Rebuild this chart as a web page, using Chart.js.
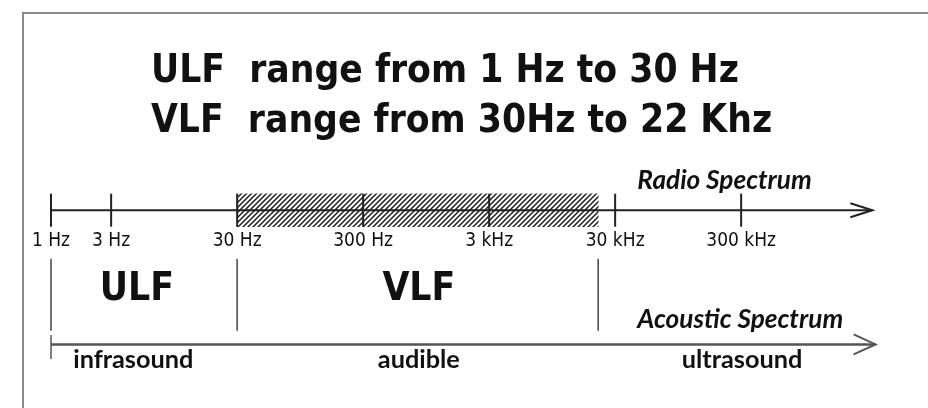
<!DOCTYPE html>
<html>
<head>
<meta charset="utf-8">
<script src="https://cdn.jsdelivr.net/npm/chart.js@4.4.0/dist/chart.umd.min.js"></script>
<style>
  html, body { margin: 0; padding: 0; background: #fff; }
  #wrap { width: 928px; height: 408px; }
</style>
</head>
<body>
<div id="wrap"><canvas id="myChart" width="928" height="408"></canvas></div>
<script>
// all frequencies in Hz
const titleLines      = ['ULF  range from 1 Hz to 30 Hz', 'VLF  range from 30Hz to 22 Khz'];
const radioTicks      = [1, 3, 30, 300, 3000, 30000, 300000];
const radioTickLabels = ['1 Hz', '3 Hz', '30 Hz', '300 Hz', '3 kHz', '30 kHz', '300 kHz'];
const radioAxis       = [1, 3.3e6];
const vlfBand         = [30, 22000];
const bandEdges       = [1, 30, 22000];
const bandNames       = ['ULF', 'VLF'];
const bandLabelAt     = [4.8, 830];
const acousticAxis    = [1, 3.5e6];
const soundNames      = ['infrasound', 'audible', 'ultrasound'];
const soundLabelAt    = [4.5, 830, 305000];
const spectrumNames   = ['Radio Spectrum', 'Acoustic Spectrum'];
const spectrumLabelAt = [45000, 45000];

// vertical layout (rows on the hidden y scale) and text sizes
const rows = { title1: 67, title2: 123, radioName: 187, radio: 211, tickLabel: 251, bands: 306,
               bandName: 312, acousticName: 343, acoustic: 362, acousticTick: 365, soundName: 388 };
const CONDENSED = '"DejaVu Sans Condensed", "DejaVu Sans", sans-serif';
const HUMANIST  = 'Lato, "Open Sans", sans-serif';

var canvas = document.querySelector('#myChart');
var ctx0 = canvas.getContext('2d');

// diagonal hatch for the VLF band
function hatch() {
    const c = document.createElement('canvas');
    c.width = c.height = 5;
    const g = c.getContext('2d');
    g.strokeStyle = '#1e1e1e';
    g.lineWidth = 1.5;
    g.beginPath();
    g.moveTo(0, 5); g.lineTo(5, 0);
    g.moveTo(-1, 1); g.lineTo(1, -1);
    g.moveTo(4, 6); g.lineTo(6, 4);
    g.stroke();
    return ctx0.createPattern(c, 'repeat');
}

// font size chosen so that the text gets the wanted width
function fitFont(ctx, text, style, family, width) {
    ctx.font = style + ' 100px ' + family;
    return style + ' ' + (100 * width / ctx.measureText(text).width).toFixed(1) + 'px ' + family;
}

function arrowHead(ctx, meta, back, spread, color, lw) {
    const p = meta.data[meta.data.length - 1];
    ctx.save();
    ctx.strokeStyle = color;
    ctx.lineWidth = lw;
    ctx.beginPath();
    ctx.moveTo(p.x - back, p.y - spread);
    ctx.lineTo(p.x, p.y);
    ctx.lineTo(p.x - back, p.y + spread);
    ctx.stroke();
    ctx.restore();
}

const diagram = {
    id: 'diagram',
    afterDatasetsDraw(chart) {
        const {ctx, scales: {x, y}} = chart;
        arrowHead(ctx, chart.getDatasetMeta(1), 22, 7, '#222', 2);
        arrowHead(ctx, chart.getDatasetMeta(4), 22, 10, '#555', 2);

        ctx.save();
        ctx.fillStyle = '#111';
        ctx.textBaseline = 'alphabetic';

        // titles
        ctx.textAlign = 'left';
        ctx.font = fitFont(ctx, titleLines[1], 'bold', CONDENSED, 621);
        ctx.fillText(titleLines[0], 151, y.getPixelForValue(rows.title1));
        ctx.fillText(titleLines[1], 151, y.getPixelForValue(rows.title2));

        // radio scale labels
        ctx.textAlign = 'center';
        ctx.font = '19px ' + CONDENSED;
        radioTicks.forEach((f, i) => ctx.fillText(radioTickLabels[i], x.getPixelForValue(f), y.getPixelForValue(rows.tickLabel)));

        // band names
        ctx.font = fitFont(ctx, 'VLF', 'bold', CONDENSED, 73);
        bandNames.forEach((t, i) => ctx.fillText(t, x.getPixelForValue(bandLabelAt[i]), y.getPixelForValue(rows.bandName)));

        // sound ranges
        ctx.font = fitFont(ctx, 'infrasound', 'bold', HUMANIST, 120);
        soundNames.forEach((t, i) => ctx.fillText(t, x.getPixelForValue(soundLabelAt[i]), y.getPixelForValue(rows.soundName)));

        // spectrum names
        ctx.textAlign = 'left';
        ctx.font = fitFont(ctx, spectrumNames[1], 'italic bold', HUMANIST, 206);
        ctx.fillText(spectrumNames[0], x.getPixelForValue(spectrumLabelAt[0]), y.getPixelForValue(rows.radioName));
        ctx.fillText(spectrumNames[1], x.getPixelForValue(spectrumLabelAt[1]), y.getPixelForValue(rows.acousticName));

        // frame
        ctx.strokeStyle = '#8a8a8a';
        ctx.lineWidth = 2;
        ctx.beginPath();
        ctx.moveTo(23, 408); ctx.lineTo(23, 13); ctx.lineTo(928, 13);
        ctx.stroke();
        ctx.restore();
    }
};

const data = {
    datasets: [
        {type: 'bar', indexAxis: 'y', data: [{x: vlfBand, y: rows.radio}], backgroundColor: hatch(),
         borderWidth: 0, barThickness: 33, grouped: false, order: 5},
        {type: 'line', data: radioAxis.map(f => ({x: f, y: rows.radio})), borderColor: '#222', borderWidth: 2,
         pointRadius: 0, order: 2},
        {type: 'scatter', data: radioTicks.map(f => ({x: f, y: rows.radio})), pointStyle: 'line', pointRadius: 16.5,
         pointRotation: 90, pointBorderColor: '#222', pointBorderWidth: 2, order: 1},
        {type: 'scatter', data: bandEdges.map(f => ({x: f, y: rows.bands})), pointStyle: 'line', pointRadius: 36,
         pointRotation: 90, pointBorderColor: '#444', pointBorderWidth: 1.5, order: 1},
        {type: 'line', data: acousticAxis.map(f => ({x: f, y: rows.acoustic})), borderColor: '#555', borderWidth: 2.5,
         pointRadius: 0, order: 2},
        {type: 'scatter', data: [{x: acousticAxis[0], y: rows.acousticTick}], pointStyle: 'line', pointRadius: 12,
         pointRotation: 90, pointBorderColor: '#555', pointBorderWidth: 1.5, order: 1}
    ]
};

const config = {
    type: 'scatter',
    data: data,
    options: {
        responsive: false,
        animation: false,
        events: [],
        layout: {padding: 0, autoPadding: false},
        plugins: {legend: {display: false}, tooltip: {enabled: false}},
        scales: {
            x: {type: 'logarithmic', min: 0.3937, max: 9.12e6, bounds: 'data', display: false},
            y: {type: 'linear', min: 0, max: 408, reverse: true, display: false}
        }
    },
    plugins: [diagram]
};
const myChart = new Chart(canvas, config);
</script>
</body>
</html>
